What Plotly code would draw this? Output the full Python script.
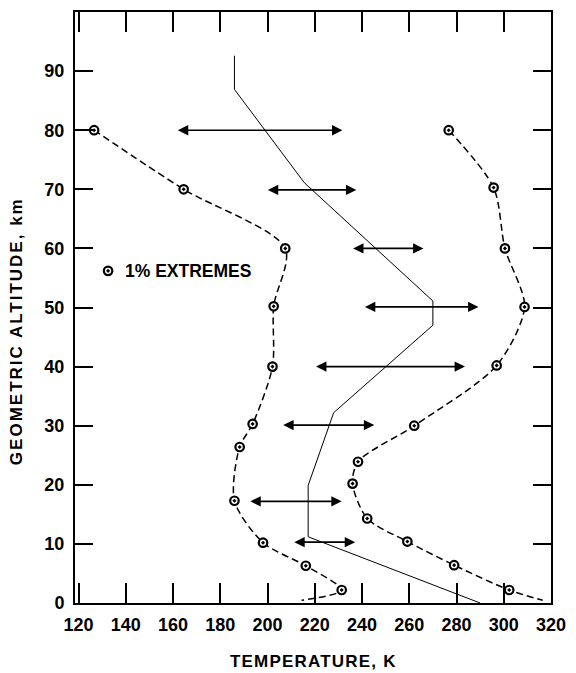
import plotly.graph_objects as go

# ---------------- data ----------------
# Mean (standard) temperature profile, solid line
mean_temp = [290.0, 217.2, 217.2, 228.0, 270.0, 270.0, 215.6, 186.0, 186.0]
mean_alt = [0.0, 11.2, 19.9, 32.2, 47.0, 51.1, 71.1, 86.9, 92.6]

# 1% cold extremes (markers)
cold_temp = [126.6, 164.5, 207.5, 202.6, 202.1, 193.7, 188.2, 186.0, 198.1, 216.2, 231.4]
cold_alt = [80.0, 70.0, 60.0, 50.2, 40.0, 30.3, 26.4, 17.3, 10.2, 6.3, 2.2]
cold_tail_temp = [214.4]
cold_tail_alt = [0.45]

# 1% warm extremes (markers)
warm_temp = [276.7, 295.7, 300.5, 308.8, 297.0, 262.1, 238.3, 236.0, 242.2, 259.2, 279.0, 302.3]
warm_alt = [80.0, 70.3, 60.0, 50.1, 40.2, 30.0, 23.9, 20.2, 14.3, 10.4, 6.4, 2.2]
warm_tail_temp = [316.5]
warm_tail_alt = [0.45]

# Range arrows (double headed)
arrow_alt = [80.0, 69.9, 60.0, 50.1, 40.0, 30.1, 17.2, 10.3]
arrow_low = [161.4, 199.5, 235.6, 240.6, 219.9, 206.0, 192.1, 210.7]
arrow_high = [231.7, 237.6, 266.0, 289.3, 283.6, 245.2, 231.4, 237.1]

x_ticks = [120, 140, 160, 180, 200, 220, 240, 260, 280, 300, 320]
y_ticks = [0, 10, 20, 30, 40, 50, 60, 70, 80, 90]

legend_label = "1% EXTREMES"
x_title = "TEMPERATURE, K"
y_title = "GEOMETRIC ALTITUDE, km"

# ---------------- figure ----------------
FONT = "Liberation Sans, Arial, Helvetica, sans-serif"
fig = go.Figure()

dash_style = dict(color="black", width=1.5, dash="7px,4px", shape="spline", smoothing=0.8)

fig.add_trace(go.Scatter(x=cold_temp + cold_tail_temp, y=cold_alt + cold_tail_alt,
                         mode="lines", line=dash_style, hoverinfo="skip"))
fig.add_trace(go.Scatter(x=warm_temp + warm_tail_temp, y=warm_alt + warm_tail_alt,
                         mode="lines", line=dash_style, hoverinfo="skip"))
fig.add_trace(go.Scatter(x=mean_temp, y=mean_alt, mode="lines",
                         line=dict(color="black", width=1.0)))

marker_style = dict(symbol="circle-dot", size=8.5, color="white",
                    line=dict(color="black", width=2.2))
fig.add_trace(go.Scatter(x=cold_temp, y=cold_alt, mode="markers", marker=marker_style))
fig.add_trace(go.Scatter(x=warm_temp, y=warm_alt, mode="markers", marker=marker_style))

# legend marker + text
fig.add_trace(go.Scatter(x=[132.5], y=[56.2], mode="markers", marker=marker_style))
fig.add_annotation(x=139.0, y=56.2, xref="x", yref="y", text=legend_label,
                   showarrow=False, xanchor="left", yanchor="middle",
                   font=dict(family=FONT, size=17.5, color="black", weight="bold"))

for a, lo, hi in zip(arrow_alt, arrow_low, arrow_high):
    fig.add_annotation(x=hi, y=a, ax=lo, ay=a, xref="x", yref="y", axref="x", ayref="y",
                       text="", showarrow=True, arrowhead=2, arrowside="end+start",
                       arrowsize=1.3, arrowwidth=1.6, arrowcolor="black",
                       standoff=0, startstandoff=0)

# axis titles
fig.add_annotation(x=0.5, y=0, xref="paper", yref="paper", yshift=-58,
                   text='<span style="letter-spacing:1.2px">' + x_title + '</span>',
                   showarrow=False, xanchor="center", yanchor="middle",
                   font=dict(family=FONT, size=17, color="black", weight="bold"))
fig.add_annotation(x=0, y=0.46, xref="paper", yref="paper", xshift=-59,
                   text='<span style="letter-spacing:2px">' + y_title + '</span>',
                   textangle=-90, showarrow=False, xanchor="center", yanchor="middle",
                   font=dict(family=FONT, size=17, color="black", weight="bold"))

axis_common = dict(showgrid=False, zeroline=False, showline=True, linecolor="black",
                   linewidth=2, mirror="ticks", ticks="inside", tickcolor="black",
                   tickwidth=2, tickfont=dict(family=FONT, size=18, color="black", weight="bold"))

fig.update_xaxes(range=[118.5, 320], tickvals=x_ticks, ticktext=[str(v) for v in x_ticks],
                 ticklen=20, ticklabelstandoff=4, **axis_common)
fig.update_yaxes(range=[0, 100], tickvals=y_ticks, ticktext=[str(v) for v in y_ticks],
                 ticklen=18, ticklabelstandoff=5, **axis_common)

fig.update_layout(width=576, height=673, showlegend=False,
                  margin=dict(l=75, r=19, t=10, b=70),
                  paper_bgcolor="white", plot_bgcolor="white",
                  font=dict(family=FONT, color="black"))

fig.write_html("out.html", config={"displayModeBar": False, "staticPlot": True},
               post_script="document.body.style.margin='0px';document.body.style.overflow='hidden';")
